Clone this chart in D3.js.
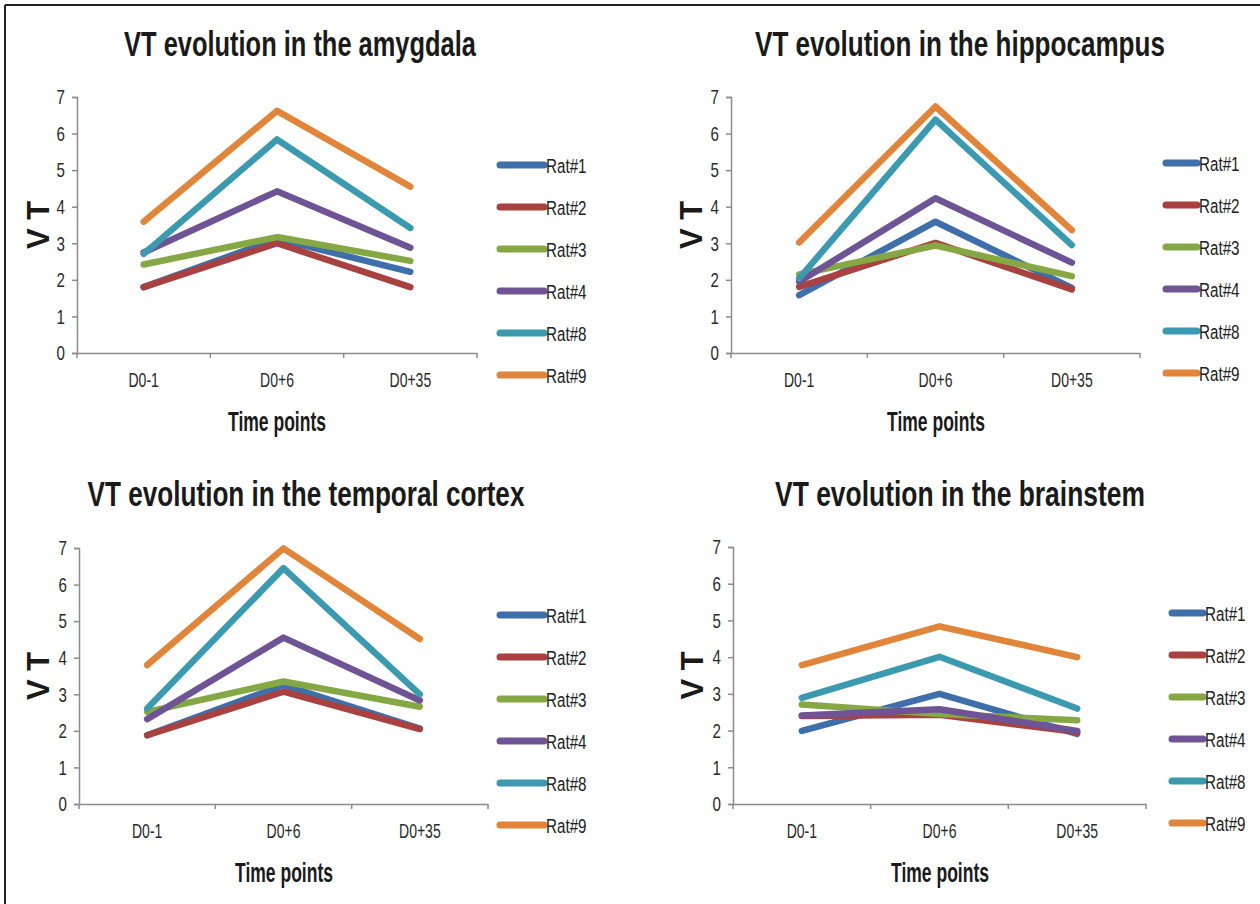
<!DOCTYPE html>
<html>
<head>
<meta charset="utf-8">
<script src="https://cdn.jsdelivr.net/npm/d3@7/dist/d3.min.js"></script>
<style>
  html, body { margin: 0; padding: 0; background: #fff; }
  svg { display: block; }
  text { font-family: "Liberation Sans", Arial, sans-serif; }
</style>
</head>
<body>
<svg id="chart" width="1260" height="904"></svg>
<script>
// ---------- DATA ----------
const categories = ["D0-1", "D0+6", "D0+35"];
const rats = ["Rat#1", "Rat#2", "Rat#3", "Rat#4", "Rat#8", "Rat#9"];
const yTicks = [0, 1, 2, 3, 4, 5, 6, 7];
const titles = [
  "VT evolution in the amygdala",
  "VT evolution in the hippocampus",
  "VT evolution in the temporal cortex",
  "VT evolution in the brainstem"
];
// values per rat (order of rats) across categories
const amygdala = [
  [1.80, 3.12, 2.22],
  [1.80, 3.00, 1.80],
  [2.42, 3.17, 2.52],
  [2.75, 4.42, 2.88],
  [2.71, 5.84, 3.42],
  [3.59, 6.62, 4.55]
];
const hippocampus = [
  [1.58, 3.59, 1.78],
  [1.81, 3.01, 1.74],
  [2.15, 2.94, 2.10],
  [1.95, 4.23, 2.47],
  [2.04, 6.38, 2.95],
  [3.02, 6.74, 3.36]
];
const temporalCortex = [
  [1.88, 3.25, 2.06],
  [1.88, 3.07, 2.05],
  [2.52, 3.35, 2.66],
  [2.32, 4.55, 2.83],
  [2.61, 6.45, 3.00],
  [3.80, 6.99, 4.51]
];
const brainstem = [
  [1.99, 3.00, 1.91],
  [2.40, 2.43, 1.96],
  [2.71, 2.45, 2.28],
  [2.41, 2.58, 1.99],
  [2.89, 4.01, 2.60],
  [3.78, 4.84, 4.00]
];
const colors = ["#3F6FAA", "#A8413F", "#86A844", "#6E5494", "#3C9AB0", "#E0853A"];

// ---------- LAYOUT ----------
const panels = [
  { title: titles[0], data: amygdala,       x0: 77,  x1: 477,  yBot: 353, yTop: 97,  titleX: 300, titleY: 56,  titleW: 352, legX: 500,  legY: 165, ylabX: 38,  xlabX: 277 },
  { title: titles[1], data: hippocampus,    x0: 731, x1: 1140, yBot: 353, yTop: 97,  titleX: 960, titleY: 56,  titleW: 410, legX: 1166, legY: 163, ylabX: 691, xlabX: 936 },
  { title: titles[2], data: temporalCortex, x0: 79,  x1: 488,  yBot: 804, yTop: 548, titleX: 306, titleY: 506, titleW: 437, legX: 500,  legY: 615, ylabX: 38,  xlabX: 284 },
  { title: titles[3], data: brainstem,      x0: 733, x1: 1146, yBot: 804, yTop: 547, titleX: 960, titleY: 506, titleW: 370, legX: 1172, legY: 613, ylabX: 692, xlabX: 940 }
];

// condense text horizontally (reference font is a narrow face)
function condense(sel, factor) {
  sel.each(function () {
    const w = this.getComputedTextLength();
    d3.select(this).attr("textLength", w * factor).attr("lengthAdjust", "spacingAndGlyphs");
  });
}
// scale a text placed at (cx, cy) horizontally so that it spans targetW
function fitWidth(t, cx, cy, targetW) {
  const w = t.node().getComputedTextLength();
  t.attr("x", 0).attr("y", 0)
   .attr("transform", `translate(${cx},${cy}) scale(${targetW / w},1)`);
}

const svg = d3.select("#chart");

// frame (top + left)
svg.append("line").attr("x1", 5).attr("y1", 5).attr("x2", 1260).attr("y2", 5)
  .attr("stroke", "#222").attr("stroke-width", 2);
svg.append("line").attr("x1", 5).attr("y1", 5).attr("x2", 5).attr("y2", 904)
  .attr("stroke", "#222").attr("stroke-width", 2);

panels.forEach(p => {
  const g = svg.append("g");
  const x = d3.scaleBand().domain(categories).range([p.x0, p.x1]);
  const y = d3.scaleLinear().domain([0, 7]).range([p.yBot, p.yTop]);

  // title
  const tt = g.append("text")
    .attr("text-anchor", "middle")
    .attr("font-size", 35).attr("font-weight", "bold").attr("fill", "#1a1a1a")
    .text(p.title);
  fitWidth(tt, p.titleX, p.titleY, p.titleW);

  // y axis
  const yAxis = g.append("g").attr("transform", `translate(${p.x0},0)`)
    .call(d3.axisLeft(y).tickValues(yTicks).tickSize(5).tickPadding(7).tickFormat(d3.format("d")));
  yAxis.select(".domain").attr("stroke", "#8c8c8c").attr("stroke-width", 1.5);
  yAxis.selectAll(".tick line").attr("stroke", "#8c8c8c").attr("stroke-width", 1.5);
  yAxis.selectAll(".tick text").attr("font-size", 21).attr("fill", "#2a2a2a")
    .style("font-family", "'Liberation Sans', Arial, sans-serif");
  condense(yAxis.selectAll(".tick text"), 0.72);

  // x axis
  const xAxis = g.append("g").attr("transform", `translate(0,${p.yBot})`)
    .call(d3.axisBottom(x).tickSize(0).tickPadding(20));
  xAxis.select(".domain").attr("stroke", "#8c8c8c").attr("stroke-width", 1.5);
  xAxis.selectAll(".tick text").attr("font-size", 20).attr("fill", "#2a2a2a")
    .style("font-family", "'Liberation Sans', Arial, sans-serif");
  condense(xAxis.selectAll(".tick text"), 0.7);
  // category boundary ticks
  const bounds = categories.map(c => x(c)).concat([p.x1]);
  g.selectAll(null).data(bounds).enter().append("line")
    .attr("x1", d => d).attr("x2", d => d)
    .attr("y1", p.yBot).attr("y2", p.yBot + 5)
    .attr("stroke", "#8c8c8c").attr("stroke-width", 1.5);

  // axis titles
  g.append("text")
    .attr("transform", `translate(${p.ylabX},${(p.yBot + p.yTop) / 2}) rotate(-90)`)
    .attr("text-anchor", "middle").attr("dy", "0.35em")
    .attr("font-size", 31).attr("font-weight", "bold").attr("fill", "#1a1a1a")
    .text("V T");
  const xt = g.append("text")
    .attr("text-anchor", "middle")
    .attr("font-size", 28).attr("font-weight", "bold").attr("fill", "#1a1a1a")
    .text("Time points");
  fitWidth(xt, p.xlabX, p.yBot + 78, 98);

  // lines
  const line = d3.line()
    .x((d, i) => x(categories[i]) + x.bandwidth() / 2)
    .y(d => y(d));
  p.data.forEach((vals, i) => {
    g.append("path")
      .attr("d", line(vals))
      .attr("fill", "none")
      .attr("stroke", colors[i])
      .attr("stroke-width", 6.5)
      .attr("stroke-linecap", "round")
      .attr("stroke-linejoin", "round");
  });

  // legend
  const legW = p.x0 < 300 ? 44 : 31;
  rats.forEach((r, i) => {
    const ly = p.legY + i * 42;
    g.append("line")
      .attr("x1", p.legX).attr("x2", p.legX + legW)
      .attr("y1", ly).attr("y2", ly)
      .attr("stroke", colors[i]).attr("stroke-width", 7)
      .attr("stroke-linecap", "round");
    const t = g.append("text")
      .attr("x", p.legX + legW + 2).attr("y", ly + 8)
      .attr("font-size", 20).attr("fill", "#222")
      .text(r);
    condense(t, 0.76);
  });
});
</script>
</body>
</html>
